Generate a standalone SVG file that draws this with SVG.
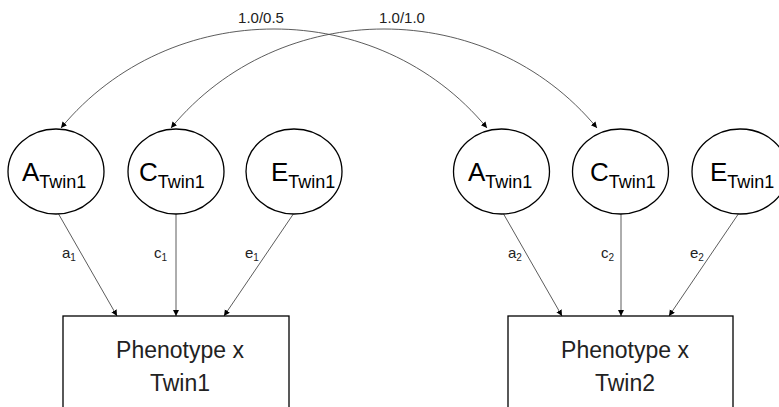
<svg xmlns="http://www.w3.org/2000/svg" width="779" height="407" viewBox="0 0 779 407">
  <style>
    .latent { fill: #ffffff; stroke: #000000; stroke-width: 1.3; }
    .observed { fill: #ffffff; stroke: #000000; stroke-width: 1.3; }
    .path { fill: none; stroke: #4a4a4a; stroke-width: 0.9; marker-end: url(#arrow); }
    .cov { marker-start: url(#arrow); }
    text { font-family: "Liberation Sans", Arial, sans-serif; fill: #000000; }
    .big { font-size: 26px; }
    .sub { font-size: 18px; }
    .coef { font-size: 15px; fill: #222222; }
    .coefsub { font-size: 10px; }
    .corr { font-size: 15px; fill: #222222; }
    .box { font-size: 23px; fill: #222222; }
  </style>
  <defs>
    <marker id="arrow" markerUnits="userSpaceOnUse" markerWidth="8" markerHeight="8" refX="6" refY="3" orient="auto-start-reverse">
      <path d="M0,0 L6,3 L0,6 Z" fill="#000000"/>
    </marker>
  </defs>

  <rect width="779" height="407" fill="#ffffff"/>

  <!-- connectors -->
  <g id="connectors">
    <!-- twin correlations (double-headed) -->
    <path class="path cov" d="M61,128 C170,-4 378,-4 487,128"/>
    <path class="path cov" d="M171,128 C280,-4 488,-4 597,128"/>
    <text class="corr" x="261" y="23" text-anchor="middle">1.0/0.5</text>
    <text class="corr" x="402" y="23" text-anchor="middle">1.0/1.0</text>

    <!-- twin 1 paths -->
    <path class="path" d="M58,213 L117,316"/>
    <path class="path" d="M176,213 L176,316"/>
    <path class="path" d="M294,213 L224,316"/>
    <text class="coef" x="62" y="258">a<tspan class="coefsub" dy="3">1</tspan></text>
    <text class="coef" x="154" y="258">c<tspan class="coefsub" dy="3">1</tspan></text>
    <text class="coef" x="245" y="258">e<tspan class="coefsub" dy="3">1</tspan></text>

    <!-- twin 2 paths -->
    <path class="path" d="M503,213 L562,316"/>
    <path class="path" d="M621,213 L621,316"/>
    <path class="path" d="M739,213 L669,316"/>
    <text class="coef" x="508" y="258">a<tspan class="coefsub" dy="3">2</tspan></text>
    <text class="coef" x="601" y="258">c<tspan class="coefsub" dy="3">2</tspan></text>
    <text class="coef" x="690" y="258">e<tspan class="coefsub" dy="3">2</tspan></text>
  </g>

  <!-- twin 1 latent factors -->
  <g id="A1">
    <ellipse class="latent" cx="56" cy="171.5" rx="48" ry="42.5"/>
    <text class="big" x="22" y="181">A<tspan class="sub" dy="7">Twin1</tspan></text>
  </g>
  <g id="C1">
    <ellipse class="latent" cx="176" cy="171.5" rx="48" ry="42.5"/>
    <text class="big" x="139" y="181">C<tspan class="sub" dy="7">Twin1</tspan></text>
  </g>
  <g id="E1">
    <ellipse class="latent" cx="294" cy="171.5" rx="48" ry="42.5"/>
    <text class="big" x="271" y="181">E<tspan class="sub" dy="7">Twin1</tspan></text>
  </g>

  <!-- twin 2 latent factors -->
  <g id="A2">
    <ellipse class="latent" cx="501.5" cy="171.5" rx="48" ry="42.5"/>
    <text class="big" x="468" y="181">A<tspan class="sub" dy="7">Twin1</tspan></text>
  </g>
  <g id="C2">
    <ellipse class="latent" cx="620.5" cy="171.5" rx="48" ry="42.5"/>
    <text class="big" x="590" y="181">C<tspan class="sub" dy="7">Twin1</tspan></text>
  </g>
  <g id="E2">
    <ellipse class="latent" cx="740" cy="171.5" rx="48" ry="42.5"/>
    <text class="big" x="710" y="181">E<tspan class="sub" dy="7">Twin1</tspan></text>
  </g>

  <!-- observed phenotypes -->
  <g id="P1">
    <rect class="observed" x="63" y="316" width="226" height="110"/>
    <text class="box" x="180" y="358" text-anchor="middle">Phenotype x</text>
    <text class="box" x="180" y="391" text-anchor="middle">Twin1</text>
  </g>
  <g id="P2">
    <rect class="observed" x="508" y="316" width="225" height="110"/>
    <text class="box" x="625" y="358" text-anchor="middle">Phenotype x</text>
    <text class="box" x="625" y="391" text-anchor="middle">Twin2</text>
  </g>
</svg>
